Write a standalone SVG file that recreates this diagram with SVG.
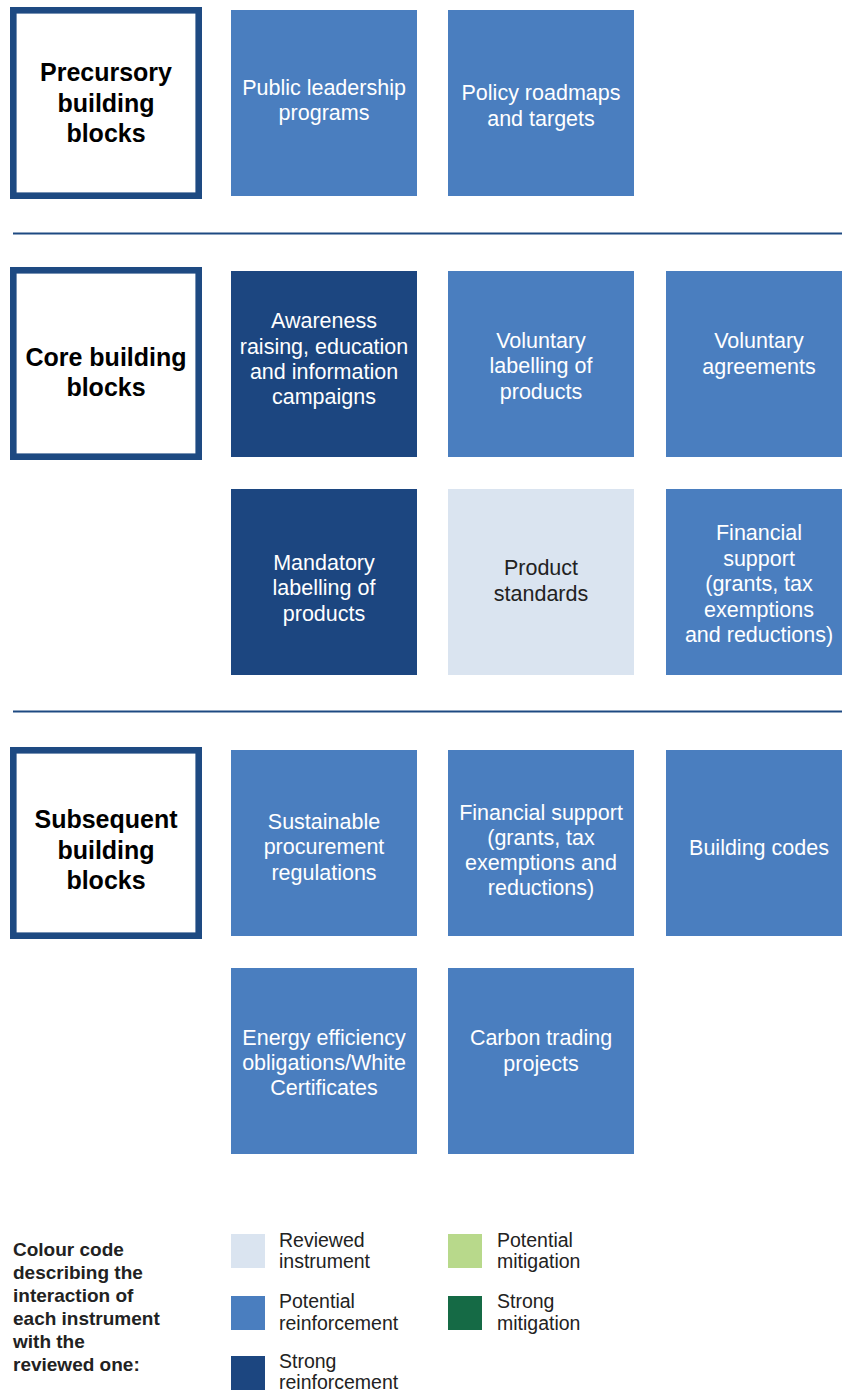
<svg xmlns="http://www.w3.org/2000/svg" width="842" height="1391" viewBox="0 0 842 1391">
<style>
.hdr{fill:#fff;stroke:#1E4A82;stroke-width:6.6}
.med{fill:#4A7EBF}
.dark{fill:#1C4680}
.light{fill:#DAE4F0}
.t{font-family:"Liberation Sans",Arial,sans-serif;font-size:21.5px;fill:#fff;text-anchor:middle}
.td{fill:#222}
.h{font-family:"Liberation Sans",Arial,sans-serif;font-size:25px;font-weight:bold;fill:#000;text-anchor:middle}
.lg{font-family:"Liberation Sans",Arial,sans-serif;font-size:19.5px;fill:#222}
.lt{font-family:"Liberation Sans",Arial,sans-serif;font-size:19px;font-weight:bold;fill:#222}
.sep{stroke:#1E4A82;stroke-width:2}
</style>
<rect width="842" height="1391" fill="#fff"/>
<g id="separators">
<line class="sep" x1="13" y1="233.5" x2="842" y2="233.5"/>
<line class="sep" x1="13" y1="711.5" x2="842" y2="711.5"/>
</g>
<g id="hdr-precursory">
<rect class="hdr" x="13.3" y="10.3" width="185.4" height="185.4"/>
<text class="h" x="106" y="81">Precursory</text>
<text class="h" x="106" y="112">building</text>
<text class="h" x="106" y="142">blocks</text>
</g>
<g id="public-leadership">
<rect class="med" x="231" y="10" width="186" height="186"/>
<text class="t" x="324" y="95">Public leadership</text>
<text class="t" x="324" y="120">programs</text>
</g>
<g id="policy-roadmaps">
<rect class="med" x="448" y="10" width="186" height="186"/>
<text class="t" x="541" y="100">Policy roadmaps</text>
<text class="t" x="541" y="126">and targets</text>
</g>
<g id="hdr-core">
<rect class="hdr" x="13.3" y="270.3" width="185.4" height="186.4"/>
<text class="h" x="106" y="366">Core building</text>
<text class="h" x="106" y="396">blocks</text>
</g>
<g id="awareness">
<rect class="dark" x="231" y="271" width="186" height="186"/>
<text class="t" x="324" y="328">Awareness</text>
<text class="t" x="324" y="354">raising, education</text>
<text class="t" x="324" y="379">and information</text>
<text class="t" x="324" y="404">campaigns</text>
</g>
<g id="voluntary-labelling">
<rect class="med" x="448" y="271" width="186" height="186"/>
<text class="t" x="541" y="348">Voluntary</text>
<text class="t" x="541" y="373">labelling of</text>
<text class="t" x="541" y="399">products</text>
</g>
<g id="voluntary-agreements">
<rect class="med" x="666" y="271" width="176" height="186"/>
<text class="t" x="759" y="348">Voluntary</text>
<text class="t" x="759" y="374">agreements</text>
</g>
<g id="mandatory-labelling">
<rect class="dark" x="231" y="489" width="186" height="186"/>
<text class="t" x="324" y="570">Mandatory</text>
<text class="t" x="324" y="595">labelling of</text>
<text class="t" x="324" y="621">products</text>
</g>
<g id="product-standards">
<rect class="light" x="448" y="489" width="186" height="186"/>
<text class="t td" x="541" y="575">Product</text>
<text class="t td" x="541" y="601">standards</text>
</g>
<g id="financial-support-core">
<rect class="med" x="666" y="489" width="176" height="186"/>
<text class="t" x="759" y="540">Financial</text>
<text class="t" x="759" y="566">support</text>
<text class="t" x="759" y="591">(grants, tax</text>
<text class="t" x="759" y="617">exemptions</text>
<text class="t" x="759" y="642">and reductions)</text>
</g>
<g id="hdr-subsequent">
<rect class="hdr" x="13.3" y="750.3" width="185.4" height="185.4"/>
<text class="h" x="106" y="828">Subsequent</text>
<text class="h" x="106" y="859">building</text>
<text class="h" x="106" y="889">blocks</text>
</g>
<g id="sustainable-procurement">
<rect class="med" x="231" y="750" width="186" height="186"/>
<text class="t" x="324" y="829">Sustainable</text>
<text class="t" x="324" y="854">procurement</text>
<text class="t" x="324" y="880">regulations</text>
</g>
<g id="financial-support-subsequent">
<rect class="med" x="448" y="750" width="186" height="186"/>
<text class="t" x="541" y="820">Financial support</text>
<text class="t" x="541" y="845">(grants, tax</text>
<text class="t" x="541" y="870">exemptions and</text>
<text class="t" x="541" y="895">reductions)</text>
</g>
<g id="building-codes">
<rect class="med" x="666" y="750" width="176" height="186"/>
<text class="t" x="759" y="855">Building codes</text>
</g>
<g id="energy-efficiency">
<rect class="med" x="231" y="968" width="186" height="186"/>
<text class="t" x="324" y="1045">Energy efficiency</text>
<text class="t" x="324" y="1070">obligations/White</text>
<text class="t" x="324" y="1095">Certificates</text>
</g>
<g id="carbon-trading">
<rect class="med" x="448" y="968" width="186" height="186"/>
<text class="t" x="541" y="1045">Carbon trading</text>
<text class="t" x="541" y="1071">projects</text>
</g>
<g id="legend">
<text class="lt" x="13" y="1256">Colour code</text>
<text class="lt" x="13" y="1279">describing the</text>
<text class="lt" x="13" y="1302">interaction of</text>
<text class="lt" x="13" y="1325">each instrument</text>
<text class="lt" x="13" y="1348">with the</text>
<text class="lt" x="13" y="1371">reviewed one:</text>
<rect class="light" x="231" y="1234" width="34" height="34"/>
<text class="lg" x="279" y="1247">Reviewed</text>
<text class="lg" x="279" y="1268">instrument</text>
<rect class="med" x="231" y="1296" width="34" height="34"/>
<text class="lg" x="279" y="1308">Potential</text>
<text class="lg" x="279" y="1330">reinforcement</text>
<rect class="dark" x="231" y="1356" width="34" height="34"/>
<text class="lg" x="279" y="1368">Strong</text>
<text class="lg" x="279" y="1389">reinforcement</text>
<rect fill="#B8D98B" x="448" y="1234" width="34" height="34"/>
<text class="lg" x="497" y="1247">Potential</text>
<text class="lg" x="497" y="1268">mitigation</text>
<rect fill="#156A45" x="448" y="1296" width="34" height="34"/>
<text class="lg" x="497" y="1308">Strong</text>
<text class="lg" x="497" y="1330">mitigation</text>
</g>
</svg>
